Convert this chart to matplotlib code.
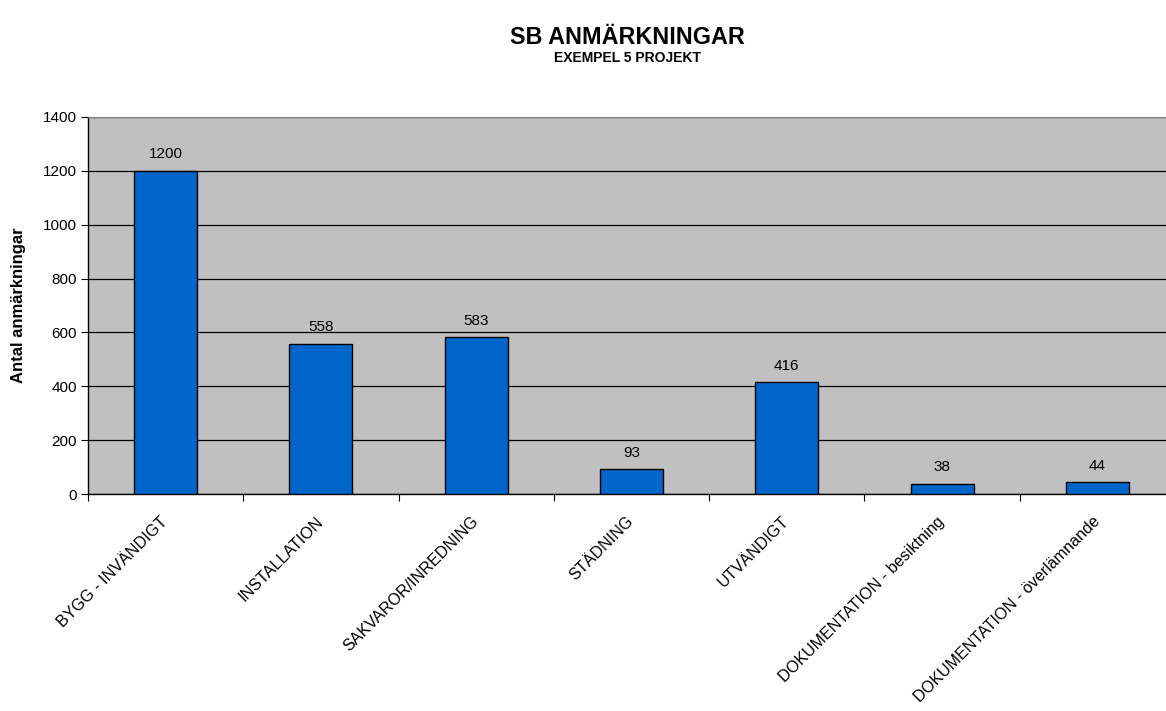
import numpy as np
import matplotlib.pyplot as plt

plt.rcParams['font.family'] = ['Liberation Sans', 'DejaVu Sans']

categories = ['BYGG - INVÄNDIGT', 'INSTALLATION', 'SAKVAROR/INREDNING', 'STÄDNING',
              'UTVÄNDIGT', 'DOKUMENTATION - besiktning', 'DOKUMENTATION - överlämnande']
values = [1200, 558, 583, 93, 416, 38, 44]
yticks = [0, 200, 400, 600, 800, 1000, 1200, 1400]

fig = plt.figure(figsize=(11.66, 7.11), dpi=100)
W, H = 1166, 711
ax = fig.add_axes([88 / W, 1 - 494 / H, (1175 - 88) / W, (494 - 117) / H])
ax.set_facecolor('#C0C0C0')

x = np.arange(len(categories))
bars = ax.bar(x, values, width=0.405, color='#0066CC', edgecolor='black', linewidth=1, zorder=3)
for xi, v in zip(x, values):
    ax.text(xi, v + 35, str(v), ha='center', va='bottom', fontsize=11, zorder=4)

ax.set_xlim(-0.5, len(categories) - 0.5)
ax.set_ylim(0, 1400)
ax.set_yticks(yticks)
ax.yaxis.grid(True, color='black', linewidth=0.9, zorder=1)
ax.tick_params(axis='y', direction='out', length=5, width=0.8, labelsize=11, pad=3)

# ticks at category boundaries, labels at category centers
ax.set_xticks(np.arange(len(categories) + 1) - 0.5)
ax.set_xticklabels([])
ax.tick_params(axis='x', which='major', direction='out', length=5, width=0.8)
ax.set_xticks(x, minor=True)
ax.set_xticklabels(categories, minor=True, rotation=45, ha='right', va='center',
                   rotation_mode='anchor', fontsize=11.6)
ax.tick_params(axis='x', which='minor', length=0, pad=18)

for side in ['left', 'bottom']:
    ax.spines[side].set_color('black')
    ax.spines[side].set_linewidth(1)
ax.spines['top'].set_color('#808080')
ax.spines['right'].set_color('#808080')

ax.set_ylabel('Antal anmärkningar', fontsize=12, fontweight='bold', labelpad=12)

fig.text(627 / W, 1 - 38 / H, 'SB ANMÄRKNINGAR', ha='center', va='center',
         fontsize=16.8, fontweight='bold')
fig.text(627 / W, 1 - 58 / H, 'EXEMPEL 5 PROJEKT', ha='center', va='center',
         fontsize=10, fontweight='bold')

fig.savefig('out.png', dpi=100)
